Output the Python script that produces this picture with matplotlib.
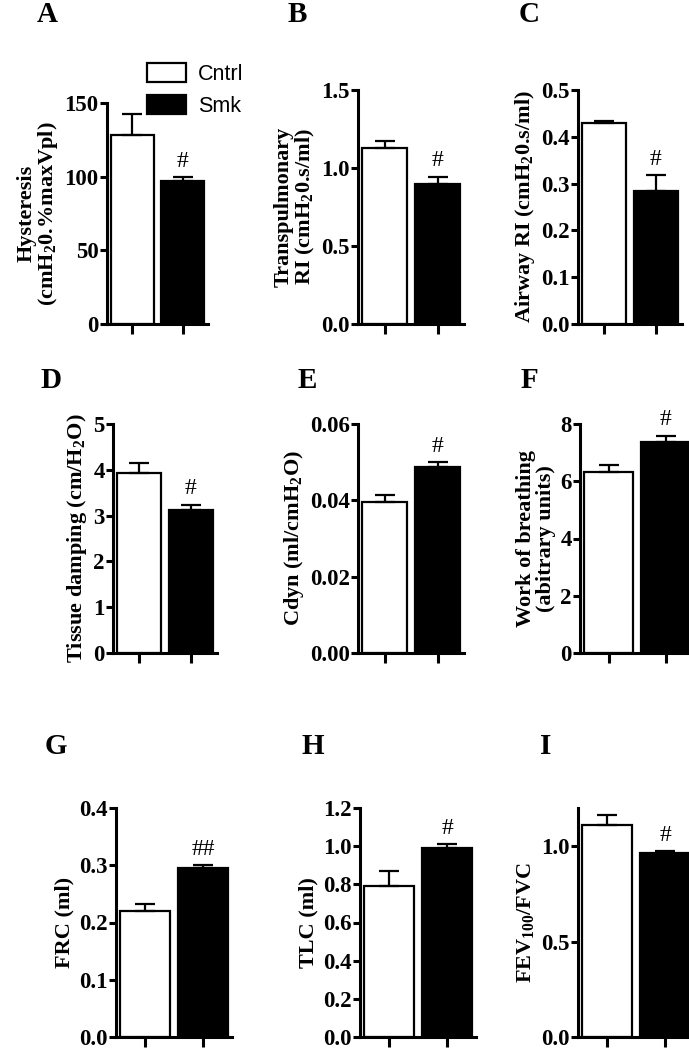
import matplotlib
matplotlib.use("Agg")
import matplotlib.pyplot as plt
from matplotlib.ticker import FormatStrFormatter

plt.rcParams['font.family'] = 'Liberation Serif'
plt.rcParams['font.weight'] = 'bold'
plt.rcParams['mathtext.fontset'] = 'custom'
plt.rcParams['mathtext.rm'] = 'Liberation Serif:bold'
plt.rcParams['mathtext.bf'] = 'Liberation Serif:bold'

# data (mean, upper SEM)
panels = ['A', 'B', 'C', 'D', 'E', 'F', 'G', 'H', 'I']
groups = ['Cntrl', 'Smk']
cntrl_mean = [128.5, 1.13, 0.430, 3.92, 0.0395, 6.32, 0.220, 0.79, 1.11]
cntrl_err = [14.0, 0.045, 0.003, 0.22, 0.0018, 0.24, 0.012, 0.08, 0.055]
smk_mean = [96.8, 0.895, 0.285, 3.12, 0.0487, 7.37, 0.295, 0.99, 0.965]
smk_err = [2.8, 0.05, 0.033, 0.12, 0.0013, 0.22, 0.005, 0.02, 0.008]
marks = ['#', '#', '#', '#', '#', '#', '##', '#', '#']
ylabels = [
    'Hysteresis\n(cmH$_{\\mathbf{2}}$0.%maxVpl)',
    'Transpulmonary\nRI (cmH$_{\\mathbf{2}}$0.s/ml)',
    'Airway RI (cmH$_{\\mathbf{2}}$0.s/ml)',
    'Tissue damping (cm/H$_{\\mathbf{2}}$O)',
    'Cdyn (ml/cmH$_{\\mathbf{2}}$O)',
    'Work of breathing\n(abitrary units)',
    'FRC (ml)',
    'TLC (ml)',
    'FEV$_{\\mathbf{100}}$/FVC',
]
yticks = [
    [0, 50, 100, 150],
    [0.0, 0.5, 1.0, 1.5],
    [0.0, 0.1, 0.2, 0.3, 0.4, 0.5],
    [0, 1, 2, 3, 4, 5],
    [0.00, 0.02, 0.04, 0.06],
    [0, 2, 4, 6, 8],
    [0.0, 0.1, 0.2, 0.3, 0.4],
    [0.0, 0.2, 0.4, 0.6, 0.8, 1.0, 1.2],
    [0.0, 0.5, 1.0],
]
ytop = [150, 1.5, 0.5, 5, 0.06, 8, 0.4, 1.2, 1.2]
fmts = ['%d', '%.1f', '%.1f', '%d', '%.2f', '%d', '%.1f', '%.1f', '%.1f']

# layout in pixels: y-spine x, px per bar slot, axis top, axis bottom
W, H = 689, 1050
layout = [
    (107, 50.5, 103, 324), (358, 53, 90, 324), (578, 52, 90, 324),
    (113, 52, 424, 653), (358, 53, 424, 653), (580, 57, 424, 653),
    (116, 58, 808, 1037), (360, 58, 808, 1037), (578, 58, 808, 1037),
]
letter_pos = [(47, 14), (297, 14), (529, 14),
              (51, 381), (307, 381), (529, 381),
              (56, 746), (313, 746), (546, 746)]

fig = plt.figure(figsize=(W / 100, H / 100), dpi=100)

for i, p in enumerate(panels):
    sx, unit, top, bot = layout[i]
    ax = fig.add_axes([sx / W, 1 - bot / H, 2 * unit / W, (bot - top) / H])
    b1 = ax.bar(0, cntrl_mean[i], 0.85, color='white', edgecolor='black',
                linewidth=1.6, label=groups[0], zorder=2)
    b2 = ax.bar(1, smk_mean[i], 0.85, color='black', edgecolor='black',
                linewidth=1.6, label=groups[1], zorder=2)
    ax.errorbar([0, 1], [cntrl_mean[i], smk_mean[i]],
                yerr=[[0, 0], [cntrl_err[i], smk_err[i]]],
                fmt='none', ecolor='black', elinewidth=1.6, capsize=7.5,
                capthick=1.6, zorder=3)
    ax.annotate(marks[i], (1, smk_mean[i] + smk_err[i]), xytext=(0, 4),
                textcoords='offset points', ha='center', va='bottom',
                fontsize=17, fontweight='normal')
    ax.set_xlim(-0.5, 1.5)
    ax.set_ylim(0, ytop[i])
    ax.set_yticks(yticks[i])
    ax.yaxis.set_major_formatter(FormatStrFormatter(fmts[i]))
    ax.set_xticks([0, 1])
    ax.set_xticklabels([])
    for s in ['top', 'right']:
        ax.spines[s].set_visible(False)
    for s in ['left', 'bottom']:
        ax.spines[s].set_linewidth(2.2)
    ax.tick_params(axis='y', width=2.2, length=5, pad=1, labelsize=16.5)
    ax.tick_params(axis='x', width=2.2, length=7)
    ax.set_ylabel(ylabels[i], fontsize=16, fontweight='bold', labelpad=3,
                  linespacing=1.0)
    fig.text(letter_pos[i][0] / W, 1 - letter_pos[i][1] / H, p,
             fontsize=21, fontweight='bold', ha='center', va='center')
    if i == 0:
        ax.legend(handles=[b1, b2], loc='upper left',
                  bbox_to_anchor=(147 / W, 1 - 63 / H),
                  bbox_transform=fig.transFigure, frameon=False,
                  prop={'family': 'Liberation Sans', 'size': 15.5,
                        'weight': 'normal'},
                  handlelength=1.8, handleheight=0.95, labelspacing=0.5,
                  handletextpad=0.55, borderaxespad=0, borderpad=0)

fig.savefig('out.png', dpi=100)
